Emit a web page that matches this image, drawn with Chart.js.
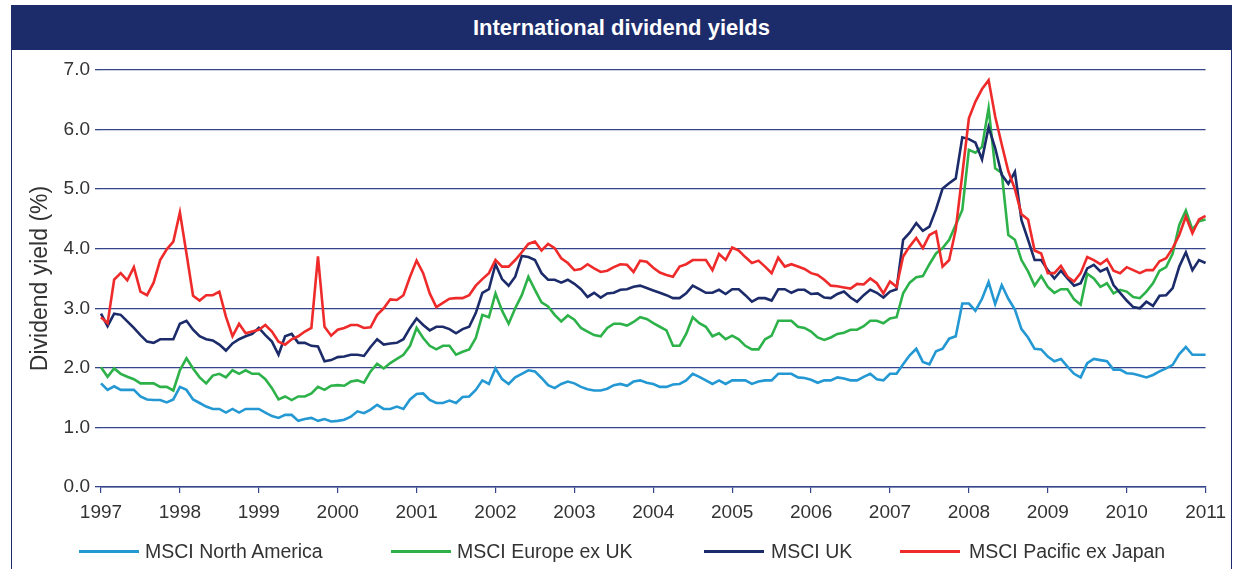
<!DOCTYPE html>
<html>
<head>
<meta charset="utf-8">
<script src="https://cdn.jsdelivr.net/npm/chart.js@4.4.1/dist/chart.umd.min.js"></script>
<style>
  html, body { margin: 0; padding: 0; background: #ffffff; width: 1234px; height: 569px; overflow: hidden; }
  #frame { position: absolute; left: 11px; top: 5px; width: 1221px; height: 580px; border-left: 1.5px solid #1c2b6a; border-right: 1.5px solid #1c2b6a; box-sizing: border-box; }
  #titlebar { position: absolute; left: 11px; top: 5px; width: 1221px; height: 45px; background: #1c2b6a; color: #ffffff;
    font: bold 22px "Liberation Sans", Arial, sans-serif; display: flex; align-items: center; justify-content: center; }
  #chart { position: absolute; left: 0; top: 0; }
  .lg-line { position: absolute; height: 3px; }
  .lg-text { position: absolute; font: 19.5px "Liberation Sans", Arial, sans-serif; color: #333333; line-height: 22px; white-space: nowrap; }
</style>
</head>
<body>
<div id="frame"></div>
<div id="titlebar">International dividend yields</div>
<canvas id="chart" width="1234" height="569"></canvas>
<div id="legend"></div>
<script>
// ---- Data (monthly, Jan 1997 - Jan 2011) ----
const yearLabels = ['1997','1998','1999','2000','2001','2002','2003','2004','2005','2006','2007','2008','2009','2010','2011'];
const categories = [];
for (let y = 0; y < yearLabels.length - 1; y++) {
  for (let m = 1; m <= 12; m++) categories.push(yearLabels[y] + '-' + String(m).padStart(2, '0'));
}
categories.push('2011-01');

const seriesNames = ['MSCI North America', 'MSCI Europe ex UK', 'MSCI UK', 'MSCI Pacific ex Japan'];
const seriesColors = ['#2398d3', '#2db24a', '#1c2b6a', '#ee2a2a'];

const northAmerica = [
  1.74,1.63,1.69,1.63,1.63,1.63,1.52,1.47,1.46,1.46,1.42,1.47,1.68,1.63,1.47,1.41,1.35,1.31,1.31,1.25,1.31,1.25,1.31,1.31,
  1.31,1.25,1.19,1.16,1.21,1.21,1.11,1.14,1.16,1.11,1.14,1.10,
  1.11,1.13,1.18,1.27,1.24,1.30,1.38,1.31,1.31,1.35,1.31,1.47,1.56,1.57,1.46,1.41,1.41,1.45,1.41,1.51,1.52,1.63,1.79,1.73,
  1.99,1.81,1.73,1.84,1.90,1.96,1.94,1.83,1.71,1.66,1.73,1.77,
  1.74,1.68,1.64,1.62,1.62,1.65,1.71,1.73,1.70,1.77,1.79,1.75,1.73,1.68,1.68,1.72,1.73,1.79,1.90,1.85,1.79,1.73,1.79,1.73,
  1.79,1.79,1.79,1.73,1.77,1.79,1.79,1.90,1.90,1.90,1.84,
  1.83,1.80,1.75,1.79,1.79,1.84,1.82,1.79,1.79,1.85,1.90,1.81,1.79,1.90,1.90,2.06,2.21,2.32,2.10,2.06,2.28,2.32,2.49,2.53,
  3.08,3.08,2.96,3.16,3.44,3.07,3.39,3.16,2.98,2.65,2.51,2.32,
  2.31,2.19,2.11,2.15,2.02,1.90,1.84,2.08,2.15,2.13,2.11,1.97,1.97,1.91,1.90,1.87,1.84,1.88,1.94,1.99,2.05,2.23,2.35,2.22,
  2.22,2.22
];
const europeExUK = [
  2.01,1.85,1.99,1.90,1.85,1.81,1.74,1.74,1.74,1.68,1.68,1.62,1.96,2.16,1.99,1.84,1.74,1.87,1.90,1.84,1.96,1.90,1.96,1.90,
  1.90,1.81,1.66,1.47,1.52,1.46,1.52,1.52,1.57,1.68,1.63,1.70,
  1.71,1.70,1.77,1.79,1.75,1.94,2.07,1.99,2.08,2.15,2.22,2.37,2.67,2.50,2.37,2.31,2.37,2.37,2.22,2.27,2.31,2.50,2.89,2.85,
  3.25,2.96,2.74,3.00,3.22,3.53,3.31,3.10,3.03,2.89,2.78,2.88,
  2.81,2.67,2.61,2.55,2.53,2.67,2.74,2.74,2.71,2.77,2.85,2.82,2.75,2.69,2.63,2.37,2.37,2.57,2.85,2.75,2.69,2.53,2.58,2.48,
  2.54,2.48,2.37,2.31,2.31,2.48,2.54,2.79,2.79,2.79,2.69,
  2.67,2.61,2.51,2.47,2.51,2.57,2.59,2.64,2.64,2.70,2.79,2.79,2.75,2.83,2.85,3.25,3.43,3.52,3.54,3.74,3.92,4.01,4.15,4.40,
  4.65,5.66,5.61,5.71,6.36,5.35,5.27,4.23,4.15,3.81,3.62,3.38,
  3.54,3.36,3.26,3.32,3.32,3.15,3.06,3.58,3.50,3.36,3.42,3.25,3.31,3.28,3.19,3.17,3.28,3.42,3.63,3.69,3.92,4.40,4.64,4.32,
  4.46,4.49
];
const uk = [
  2.91,2.70,2.91,2.89,2.78,2.67,2.55,2.44,2.42,2.48,2.48,2.48,2.74,2.79,2.64,2.53,2.48,2.46,2.39,2.29,2.41,2.48,2.53,2.57,
  2.67,2.55,2.44,2.22,2.53,2.57,2.42,2.42,2.37,2.36,2.11,2.13,
  2.18,2.19,2.22,2.22,2.20,2.35,2.48,2.39,2.41,2.42,2.48,2.67,2.83,2.72,2.63,2.69,2.69,2.65,2.58,2.65,2.69,2.92,3.26,3.32,
  3.74,3.49,3.38,3.53,3.88,3.86,3.81,3.59,3.48,3.48,3.43,3.48,
  3.41,3.32,3.19,3.26,3.18,3.25,3.26,3.31,3.32,3.36,3.38,3.34,3.30,3.26,3.22,3.17,3.17,3.25,3.38,3.32,3.26,3.26,3.31,3.24,
  3.32,3.32,3.22,3.11,3.17,3.17,3.13,3.32,3.32,3.26,3.31,
  3.31,3.24,3.25,3.18,3.17,3.24,3.28,3.18,3.11,3.22,3.31,3.26,3.18,3.28,3.32,4.15,4.27,4.43,4.30,4.37,4.66,5.01,5.10,5.18,
  5.87,5.84,5.78,5.50,6.04,5.69,5.24,5.09,5.29,4.48,4.15,3.81,
  3.81,3.64,3.50,3.63,3.50,3.38,3.42,3.67,3.73,3.62,3.67,3.39,3.26,3.13,3.02,3.00,3.11,3.04,3.21,3.22,3.34,3.70,3.94,3.64,
  3.81,3.76
];
const pacificExJapan = [
  2.85,2.75,3.48,3.59,3.47,3.69,3.28,3.22,3.43,3.81,3.99,4.12,4.61,3.92,3.21,3.13,3.22,3.22,3.28,2.86,2.53,2.74,2.58,2.61,
  2.64,2.72,2.61,2.44,2.39,2.48,2.53,2.61,2.67,3.87,2.69,2.54,
  2.64,2.67,2.72,2.72,2.67,2.68,2.89,3.00,3.15,3.14,3.22,3.53,3.80,3.59,3.25,3.02,3.09,3.16,3.17,3.17,3.22,3.38,3.49,3.59,
  3.81,3.70,3.70,3.81,3.94,4.08,4.12,3.97,4.08,4.01,3.84,3.76,
  3.64,3.66,3.74,3.67,3.61,3.63,3.69,3.74,3.73,3.61,3.80,3.78,3.68,3.60,3.56,3.53,3.70,3.74,3.81,3.81,3.81,3.64,3.91,3.81,
  4.02,3.97,3.86,3.76,3.80,3.70,3.59,3.85,3.70,3.74,3.70,
  3.66,3.59,3.56,3.48,3.38,3.37,3.35,3.33,3.41,3.40,3.50,3.42,3.25,3.45,3.36,3.87,4.04,4.18,4.01,4.23,4.29,3.70,3.81,4.32,
  5.25,6.19,6.47,6.68,6.83,6.22,5.75,5.30,5.00,4.58,4.49,3.97,
  3.92,3.59,3.59,3.71,3.53,3.45,3.59,3.86,3.81,3.74,3.82,3.63,3.59,3.69,3.64,3.59,3.64,3.64,3.79,3.84,4.01,4.23,4.54,4.26,
  4.49,4.55
];
const yTicks = [0, 1, 2, 3, 4, 5, 6, 7];

// ---- Chart ----
const seriesData = [northAmerica, europeExUK, uk, pacificExJapan];
const drawOrder = [3, 2, 1, 0];
const gridColor = '#34458a';
const textColor = '#333333';
const baseFont = '"Liberation Sans", Arial, sans-serif';

new Chart(document.getElementById('chart'), {
  type: 'line',
  data: {
    labels: categories,
    datasets: seriesNames.map((name, i) => ({
      label: name,
      data: seriesData[i],
      borderColor: seriesColors[i],
      backgroundColor: seriesColors[i],
      borderWidth: 2.6,
      pointRadius: 0,
      tension: 0,
      fill: false,
      order: drawOrder[i]
    }))
  },
  options: {
    responsive: false,
    animation: false,
    devicePixelRatio: 1,
    layout: { padding: { top: 70, left: 0, right: 28, bottom: 0 } },
    plugins: { legend: { display: false }, tooltip: { enabled: false }, title: { display: false } },
    scales: {
      x: {
        type: 'category',
        offset: false,
        afterFit: s => { s.height = 82; },
        border: { display: true, color: gridColor, width: 1.5 },
        grid: {
          drawOnChartArea: false, drawTicks: true, tickLength: 6,
          color: gridColor, lineWidth: 1.2
        },
        ticks: {
          autoSkip: false, maxRotation: 0, minRotation: 0, padding: 8,
          color: textColor, font: { family: baseFont, size: 19 },
          callback: (v, i) => (i % 12 === 0 ? yearLabels[i / 12] : null)
        }
      },
      y: {
        min: yTicks[0], max: yTicks[yTicks.length - 1],
        afterFit: s => { s.width = 101; },
        afterBuildTicks: s => { s.ticks = yTicks.map(v => ({ value: v })); },
        border: { display: false },
        grid: { color: gridColor, lineWidth: 1.3, drawTicks: true, tickLength: 6 },
        ticks: {
          padding: 5, color: textColor, font: { family: baseFont, size: 19 },
          callback: v => Number(v).toFixed(1)
        },
        title: {
          display: true, text: 'Dividend yield (%)', color: textColor,
          font: { family: baseFont, size: 23 }, padding: { top: 27, bottom: 0 }
        }
      }
    }
  }
});

// ---- Legend (built from the series names/colours) ----
const legendLayout = [
  { line: 79, text: 145 },
  { line: 391, text: 457 },
  { line: 704, text: 771 },
  { line: 900, text: 969 }
];
const legendY = 551;
const legendEl = document.getElementById('legend');
seriesNames.forEach((name, i) => {
  const ln = document.createElement('div');
  ln.className = 'lg-line';
  ln.style.left = legendLayout[i].line + 'px';
  ln.style.width = '60px';
  ln.style.top = (legendY - 1.5) + 'px';
  ln.style.background = seriesColors[i];
  legendEl.appendChild(ln);
  const tx = document.createElement('div');
  tx.className = 'lg-text';
  tx.style.left = legendLayout[i].text + 'px';
  tx.style.top = (legendY - 11) + 'px';
  tx.textContent = name;
  legendEl.appendChild(tx);
});
</script>
</body>
</html>
